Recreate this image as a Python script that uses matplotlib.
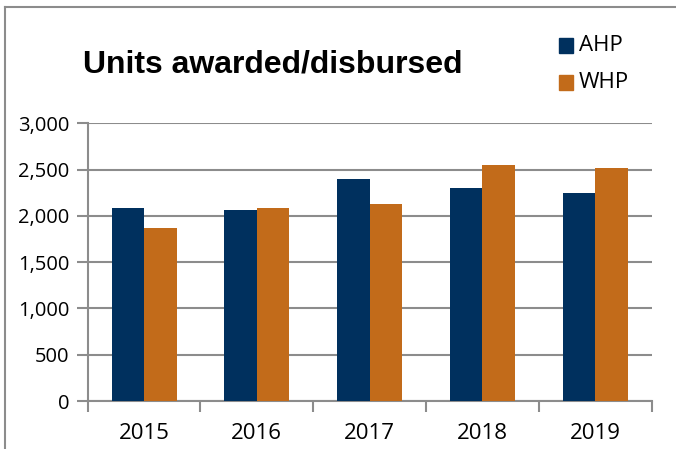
import numpy as np
import matplotlib
matplotlib.use("Agg")
import matplotlib.pyplot as plt
from matplotlib.lines import Line2D
from matplotlib.patches import Rectangle

years = ["2015", "2016", "2017", "2018", "2019"]
ahp = [2082, 2060, 2395, 2304, 2250]
whp = [1869, 2088, 2128, 2549, 2517]
series_names = ["AHP", "WHP"]
yticks = [0, 500, 1000, 1500, 2000, 2500, 3000]

NAVY = "#00305E"
ORANGE = "#C26B1A"
GRID = "#8C8C8C"

fig = plt.figure(figsize=(6.76, 4.49), dpi=100)
ax = fig.add_axes([0.1297, 0.1069, 0.8343, 0.6185])

x = np.arange(len(years))
w = 0.288
ax.bar(x - w / 2, ahp, w, color=NAVY, zorder=3)
ax.bar(x + w / 2, whp, w, color=ORANGE, zorder=3)

ax.set_xlim(-0.5, len(years) - 0.5)
ax.set_ylim(0, 3000)
ax.set_yticks(yticks)
ax.set_yticklabels([f"{v:,}" for v in yticks], family="Open Sans", fontsize=14.5)
ax.yaxis.grid(True, color=GRID, linewidth=1.5, zorder=0)
ax.tick_params(axis="y", length=8, width=1.5, color=GRID, pad=5)

# category labels centred, tick marks on the boundaries
ax.set_xticks(np.arange(-0.5, len(years)), minor=False)
ax.set_xticklabels([])
ax.set_xticks(x, minor=True)
ax.set_xticklabels(years, minor=True, family="Open Sans", fontsize=16)
ax.tick_params(axis="x", which="major", length=8, width=1.5, color=GRID)
ax.tick_params(axis="x", which="minor", length=0, pad=16)

for s in ("top", "right"):
    ax.spines[s].set_visible(False)
for s in ("left", "bottom"):
    ax.spines[s].set_color(GRID)
    ax.spines[s].set_linewidth(1.5)

fig.text(0.123, 0.857, "Units awarded/disbursed", family="Liberation Sans",
         fontweight="bold", fontsize=23, va="center", ha="left")

# legend squares + labels
for i, (name, col) in enumerate(zip(series_names, [NAVY, ORANGE])):
    yc = 1 - (45.5 + 37 * i) / 449
    fig.patches.append(Rectangle((559 / 676, yc - 7.5 / 449), 14 / 676, 15 / 449,
                                 transform=fig.transFigure, color=col))
    fig.text(579 / 676, yc, name, family="Open Sans",
             fontsize=16, va="center", ha="left")

# outer border (top and left)
fig.add_artist(Line2D([5 / 676, 5 / 676], [0, 1 - 7 / 449], transform=fig.transFigure,
                      color=GRID, linewidth=1.5))
fig.add_artist(Line2D([5 / 676, 1], [1 - 7 / 449, 1 - 7 / 449], transform=fig.transFigure,
                      color=GRID, linewidth=1.5))

fig.savefig("out.png", dpi=100)
